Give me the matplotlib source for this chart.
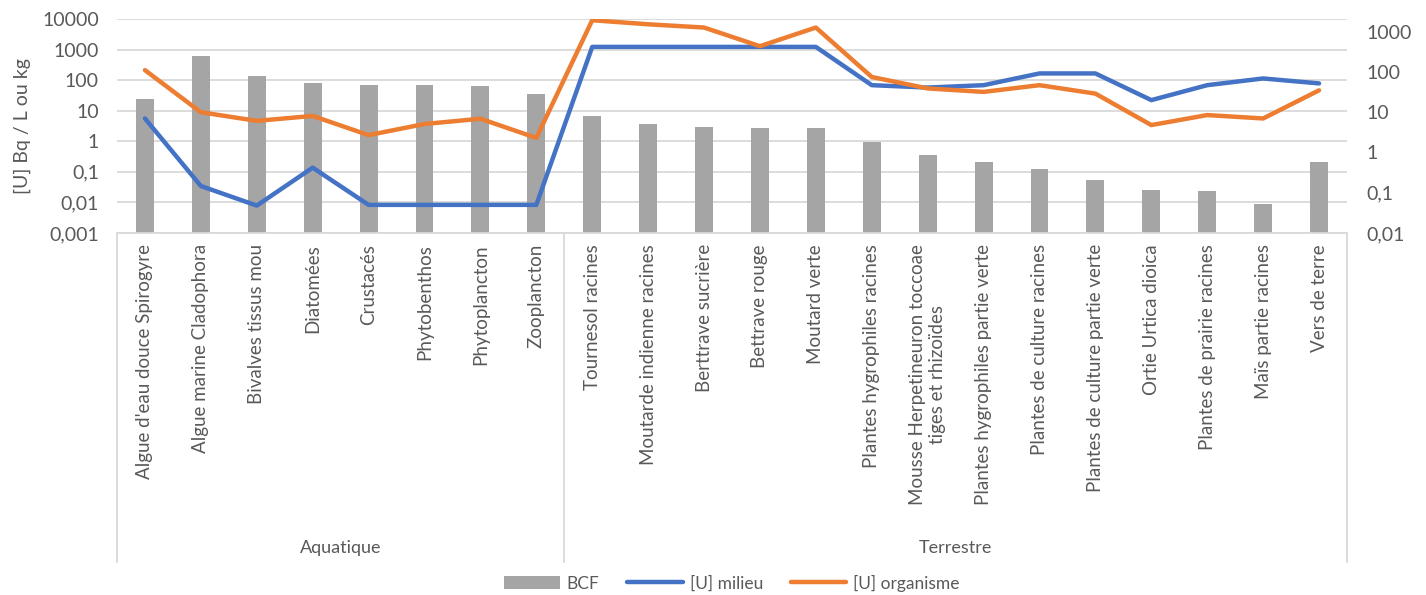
import numpy as np
import matplotlib
matplotlib.use("Agg")
import matplotlib.pyplot as plt
from matplotlib.ticker import FixedLocator, FuncFormatter, NullLocator
import matplotlib.transforms as mtransforms

# =========================
# DATA
# =========================

categories = [
    "Algue d'eau douce Spirogyre", "Algue marine Cladophora", "Bivalves tissus mou",
    "Diatomées", "Crustacés", "Phytobenthos", "Phytoplancton", "Zooplancton",
    "Tournesol racines", "Moutarde indienne racines", "Berttrave sucrière",
    "Bettrave rouge", "Moutard verte", "Plantes hygrophiles racines",
    "Mousse Herpetineuron toccoae\ntiges et rhizoïdes",
    "Plantes hygrophiles partie verte", "Plantes de culture racines",
    "Plantes de culture partie verte", "Ortie Urtica dioica",
    "Plantes de prairie racines", "Maïs partie racines", "Vers de terre",
]

groups = ["Aquatique", "Terrestre"]
group_sizes = [8, 14]

bcf = [25, 600, 140, 79, 71, 71, 66, 36,
       6.8, 3.7, 2.9, 2.7, 2.7, 0.95, 0.35, 0.21,
       0.125, 0.054, 0.025, 0.022, 0.0078, 0.21]

u_milieu = [7.0, 0.147, 0.048, 0.42, 0.05, 0.05, 0.05, 0.05,
            420, 420, 420, 420, 420, 47, 41, 47,
            92, 92, 20, 47, 69, 52]

u_organisme = [111, 10, 6.1, 8.1, 2.7, 5.1, 6.9, 2.3,
               1930, 1530, 1270, 437, 1270, 75, 39, 32,
               47, 29, 4.8, 8.5, 7.0, 35]

left_ticks = [0.001, 0.01, 0.1, 1, 10, 100, 1000, 10000]
right_ticks = [0.01, 0.1, 1, 10, 100, 1000]

# =========================
# STYLE
# =========================

plt.rcParams["font.family"] = ["Lato", "DejaVu Sans"]
TXT = "#595959"
GRID = "#D9D9D9"
GREY = "#A5A5A5"
BLUE = "#4472C4"
ORANGE = "#ED7D31"

W, H = 1426, 595
fig = plt.figure(figsize=(W / 100, H / 100), dpi=100)

L, R, T, B = 117, 1347, 19, 233
ax = fig.add_axes([L / W, 1 - B / H, (R - L) / W, (B - T) / H])

x = np.arange(len(categories))


def fmt(v, pos):
    if v >= 1:
        return f"{int(round(v))}"
    return f"{v:g}".replace(".", ",")


# bars on the primary axis
ax.bar(x, bcf, width=0.32, color=GREY, bottom=0.001, label="BCF", zorder=2)
ax.set_yscale("log")
ax.set_ylim(0.001, 10000)
ax.set_xlim(-0.5, len(categories) - 0.5)
ax.yaxis.set_major_locator(FixedLocator(left_ticks))
ax.yaxis.set_minor_locator(NullLocator())
ax.yaxis.set_major_formatter(FuncFormatter(fmt))
ax.grid(axis="y", color=GRID, linewidth=1.3, zorder=0)
ax.set_axisbelow(True)

ax.set_xticks(x)
ax.set_xticklabels(categories, rotation=90, va="top", ha="center",
                   fontsize=13.5, color=TXT, multialignment="center")
ax.tick_params(axis="x", length=0, pad=8)
ax.tick_params(axis="y", length=0, pad=13, labelsize=14, labelcolor=TXT)
ax.set_ylabel("[U] Bq / L ou kg", fontsize=14, color=TXT, labelpad=8)

for s in ["left", "right", "top"]:
    ax.spines[s].set_visible(False)
ax.spines["bottom"].set_color(GRID)
ax.spines["bottom"].set_linewidth(1.3)

# lines on the secondary axis
ax2 = ax.twinx()
ax2.plot(x, u_milieu, color=BLUE, linewidth=3.2, label="[U] milieu",
         solid_joinstyle="round", solid_capstyle="round")
ax2.plot(x, u_organisme, color=ORANGE, linewidth=3.2, label="[U] organisme",
         solid_joinstyle="round", solid_capstyle="round")
ax2.set_yscale("log")
ax2.set_ylim(0.01, 2070)
ax2.yaxis.set_major_locator(FixedLocator(right_ticks))
ax2.yaxis.set_minor_locator(NullLocator())
ax2.yaxis.set_major_formatter(FuncFormatter(fmt))
ax2.tick_params(axis="y", length=0, pad=14, labelsize=14, labelcolor=TXT)
for s in ax2.spines.values():
    s.set_visible(False)

# group separators and labels under the category labels
trans = mtransforms.blended_transform_factory(ax.transData, ax.transAxes)
y_low = -(562 - B) / (B - T)
edges = np.concatenate([[0], np.cumsum(group_sizes)]) - 0.5
for e in edges:
    ax.plot([e, e], [0, y_low], transform=trans, color=GRID, linewidth=1.3,
            clip_on=False)
y_grp = -(548 - B) / (B - T)
for g, a, b in zip(groups, edges[:-1], edges[1:]):
    ax.text((a + b) / 2, y_grp, g, transform=trans, ha="center", va="center",
            fontsize=13, color=TXT)

# legend
h1, l1 = ax.get_legend_handles_labels()
h2, l2 = ax2.get_legend_handles_labels()
fig.legend(h1 + h2, l1 + l2, loc="center", bbox_to_anchor=(732 / W, 1 - 583 / H),
           ncol=3, frameon=False, fontsize=12.5, labelcolor=TXT,
           handlelength=3.2, columnspacing=1.6, handletextpad=0.4)

fig.savefig("out.png", dpi=100)
